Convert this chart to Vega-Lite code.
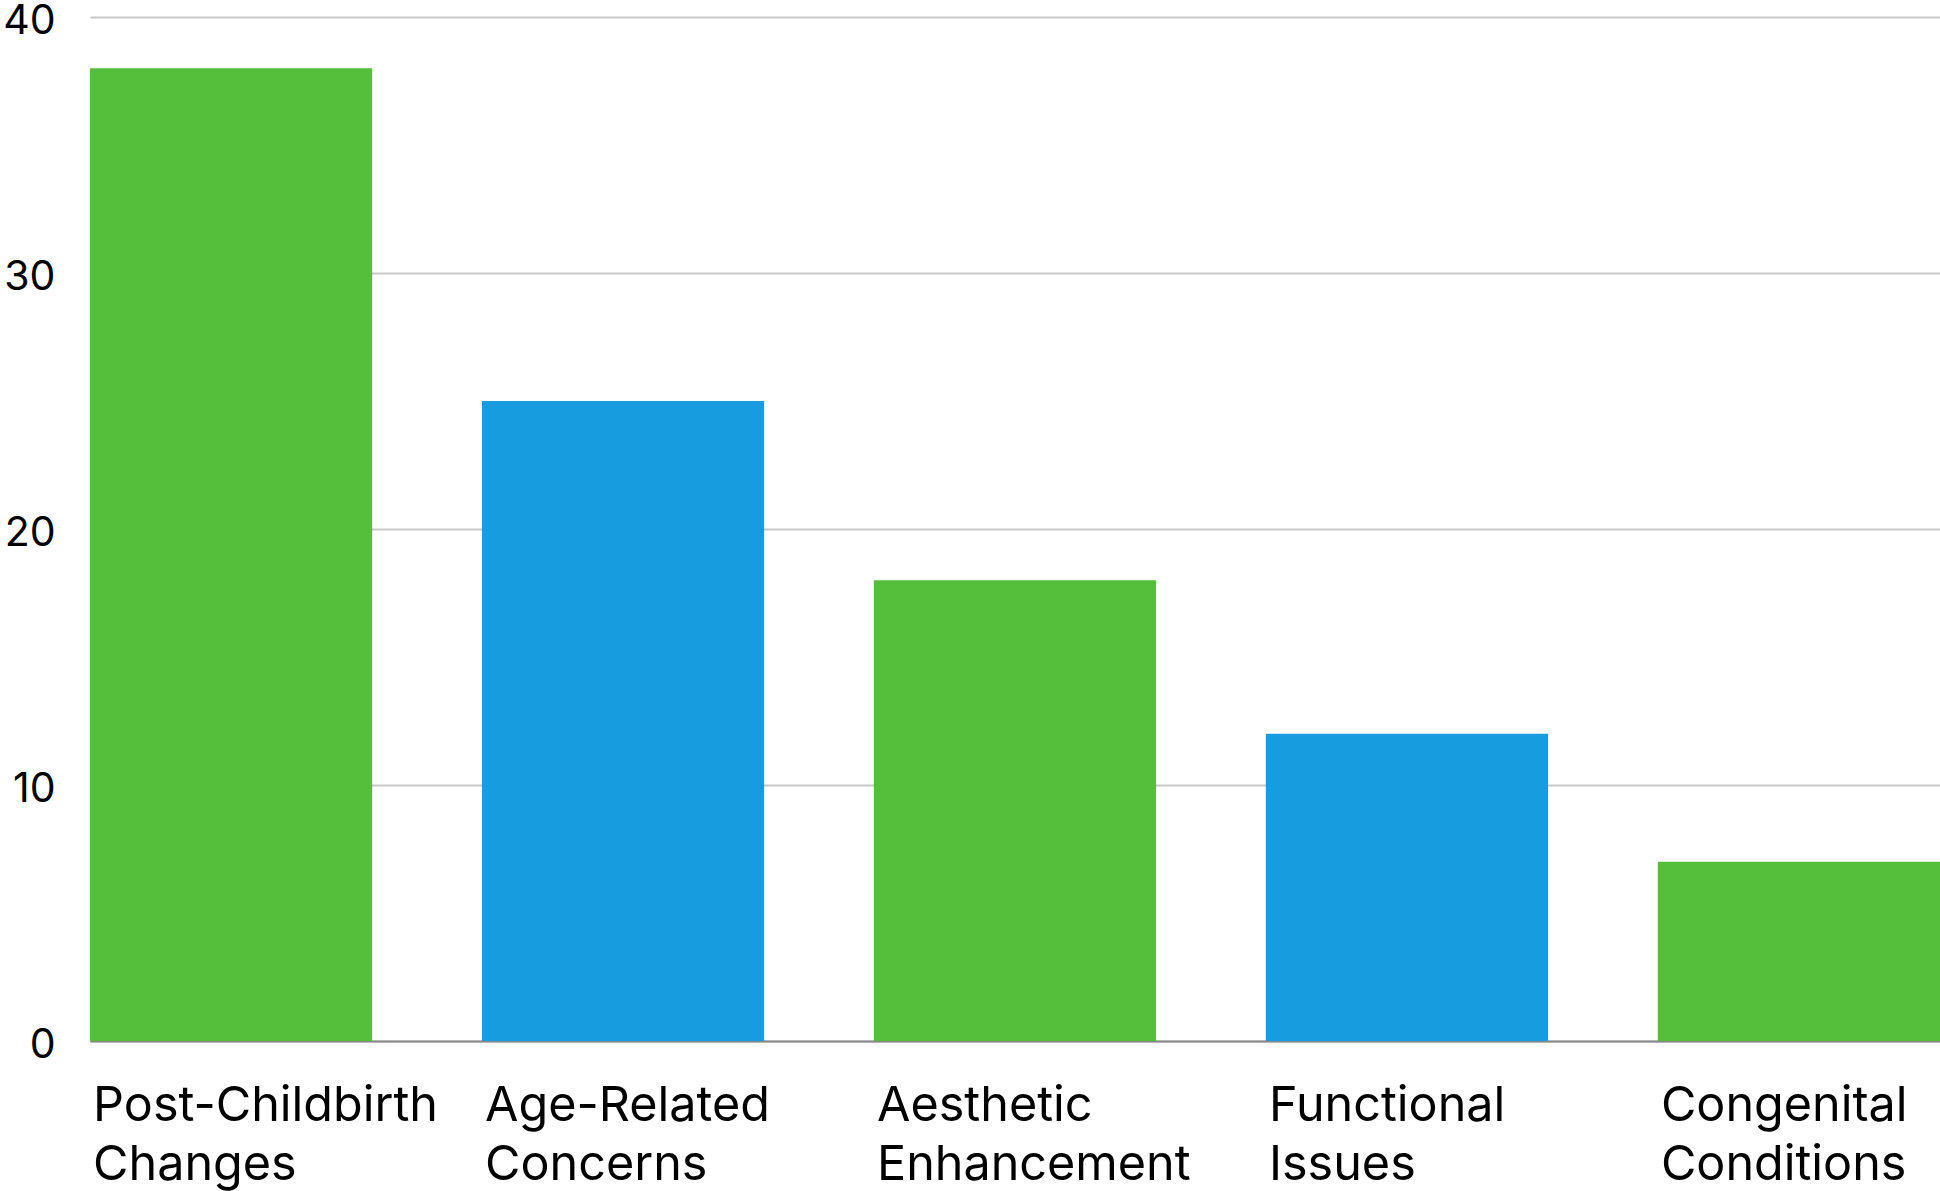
{
  "$schema": "https://vega.github.io/schema/vega-lite/v6.json",
  "width": 1850,
  "height": 1024,
  "autosize": {"type": "none"},
  "padding": {"left": 90, "top": 17, "right": 0, "bottom": 150},
  "background": "white",
  "data": {
    "values": [
      {"Reason": "Post-Childbirth Changes", "Count": 38, "Group": "green"},
      {"Reason": "Age-Related Concerns", "Count": 25, "Group": "blue"},
      {"Reason": "Aesthetic Enhancement", "Count": 18, "Group": "green"},
      {"Reason": "Functional Issues", "Count": 12, "Group": "blue"},
      {"Reason": "Congenital Conditions", "Count": 7, "Group": "green"}
    ]
  },
  "mark": {"type": "bar"},
  "encoding": {
    "x": {
      "field": "Reason",
      "type": "nominal",
      "sort": null,
      "title": null,
      "scale": {"paddingInner": 0.28, "paddingOuter": 0},
      "axis": {
        "labelAlign": "left",
        "labelBaseline": "alphabetic",
        "labelAngle": 0,
        "labelOffset": -138,
        "labelPadding": 79,
        "labelLineHeight": 59,
        "labelLimit": 0,
        "labelOverlap": false,
        "labelFlush": false,
        "labelExpr": "split(datum.label, ' ')",
        "labelFont": "Inter",
        "labelFontSize": 48.5,
        "labelColor": "#000000",
        "ticks": false,
        "domainColor": "#888888",
        "domainWidth": 2,
        "grid": false
      }
    },
    "y": {
      "field": "Count",
      "type": "quantitative",
      "title": null,
      "scale": {"domain": [0, 40], "nice": false},
      "axis": {
        "values": [0, 10, 20, 30, 40],
        "ticks": false,
        "domain": false,
        "labelPadding": 35,
        "labelFont": "Inter",
        "labelFontSize": 41,
        "labelColor": "#000000",
        "labelOffset": 4,
        "labelFlush": false,
        "gridColor": "#c8c8c8",
        "gridWidth": 2
      }
    },
    "color": {
      "field": "Group",
      "type": "nominal",
      "scale": {"domain": ["green", "blue"], "range": ["#55BF3C", "#189CE0"]},
      "legend": null
    }
  },
  "config": {"view": {"stroke": null}}
}
